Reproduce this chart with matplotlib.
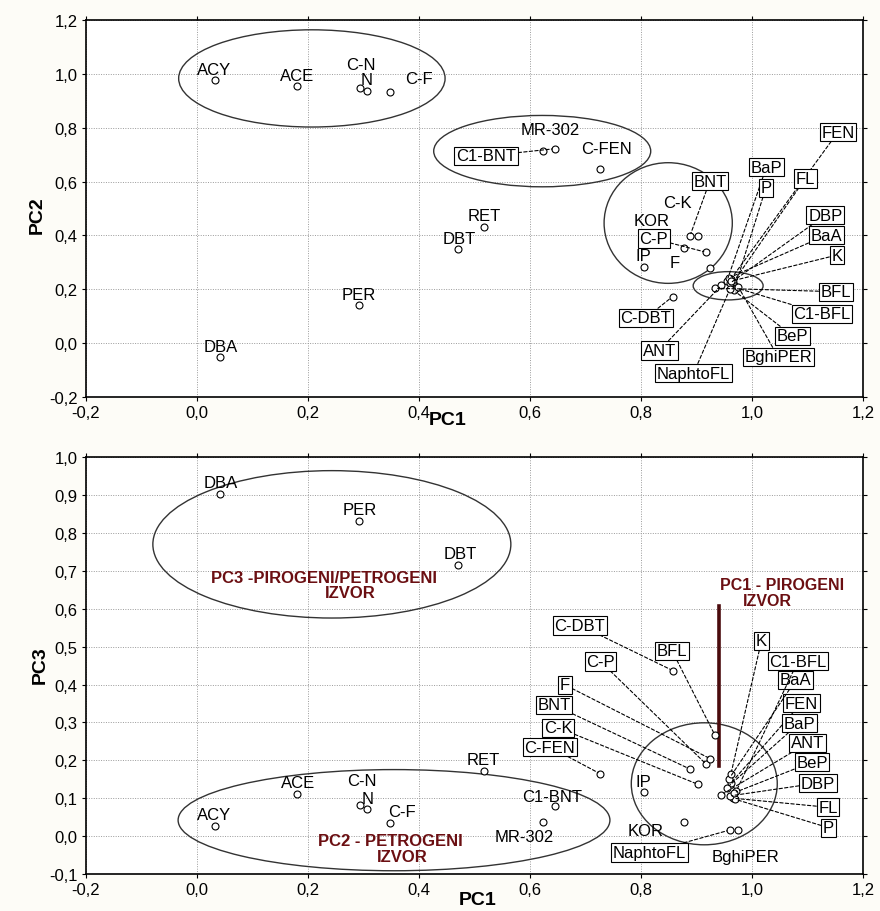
import numpy as np
import matplotlib
matplotlib.use('Agg')
from matplotlib import pyplot as plt
from matplotlib.patches import Ellipse
from matplotlib.ticker import FuncFormatter, MultipleLocator

plt.rcParams['font.family'] = ['Liberation Sans', 'DejaVu Sans']

# loadings
names = ['ACY', 'ACE', 'C-N', 'N', 'C-F', 'DBA', 'PER', 'DBT', 'RET',
         'C1-BNT', 'MR-302', 'C-FEN', 'KOR', 'IP', 'BNT', 'C-K', 'C-P', 'F',
         'C-DBT', 'BFL', 'FEN', 'BaP', 'FL', 'P', 'DBP', 'BaA', 'K',
         'C1-BFL', 'BeP', 'BghiPER', 'ANT', 'NaphtoFL']
pc1 = [0.033, 0.181, 0.294, 0.306, 0.348, 0.041, 0.292, 0.470, 0.518,
       0.645, 0.624, 0.727, 0.877, 0.805, 0.888, 0.902, 0.918, 0.925,
       0.857, 0.933, 0.962, 0.955, 0.966, 0.970, 0.960, 0.958, 0.962,
       0.972, 0.967, 0.975, 0.945, 0.960]
pc2 = [0.978, 0.953, 0.948, 0.936, 0.932, -0.053, 0.142, 0.349, 0.432,
       0.722, 0.712, 0.648, 0.354, 0.284, 0.397, 0.397, 0.337, 0.280,
       0.173, 0.204, 0.238, 0.232, 0.226, 0.214, 0.222, 0.242, 0.230,
       0.205, 0.196, 0.210, 0.215, 0.200]
pc3 = [0.026, 0.111, 0.082, 0.072, 0.034, 0.903, 0.831, 0.716, 0.172,
       0.079, 0.037, 0.164, 0.036, 0.116, 0.177, 0.137, 0.189, 0.204,
       0.437, 0.267, 0.140, 0.128, 0.100, 0.097, 0.106, 0.150, 0.164,
       0.120, 0.114, 0.017, 0.109, 0.016]

pc1 = np.array(pc1)
pc2 = np.array(pc2)
pc3 = np.array(pc3)

# label placement: name -> (x, y, boxed)
top_labels = {
    'ACY': (0.031, 1.016, False), 'ACE': (0.180, 0.994, False),
    'C-N': (0.295, 1.033, False), 'N': (0.306, 0.978, False),
    'C-F': (0.399, 0.981, False), 'PER': (0.292, 0.181, False),
    'DBA': (0.042, -0.012, False), 'MR-302': (0.636, 0.794, False),
    'C-FEN': (0.738, 0.722, False), 'RET': (0.517, 0.473, False),
    'DBT': (0.472, 0.389, False), 'KOR': (0.819, 0.457, False),
    'C-K': (0.865, 0.521, False), 'IP': (0.805, 0.327, False),
    'F': (0.860, 0.300, False),
    'C1-BNT': (0.521, 0.695, True), 'FEN': (1.155, 0.784, True),
    'BaP': (1.026, 0.654, True), 'FL': (1.096, 0.611, True),
    'P': (1.025, 0.577, True), 'BNT': (0.924, 0.602, True),
    'DBP': (1.132, 0.475, True), 'BaA': (1.134, 0.401, True),
    'K': (1.153, 0.327, True), 'BFL': (1.151, 0.191, True),
    'C1-BFL': (1.126, 0.109, True), 'BeP': (1.073, 0.027, True),
    'BghiPER': (1.047, -0.051, True), 'ANT': (0.833, -0.027, True),
    'NaphtoFL': (0.895, -0.111, True), 'C-DBT': (0.809, 0.094, True),
    'C-P': (0.823, 0.388, True),
}
bot_labels = {
    'DBA': (0.042, 0.932, False), 'PER': (0.293, 0.861, False),
    'DBT': (0.474, 0.745, False), 'ACY': (0.030, 0.056, False),
    'ACE': (0.182, 0.142, False), 'C-N': (0.297, 0.146, False),
    'N': (0.307, 0.100, False), 'C-F': (0.369, 0.065, False),
    'RET': (0.515, 0.202, False), 'C1-BNT': (0.639, 0.105, False),
    'MR-302': (0.590, 0.000, False), 'IP': (0.805, 0.144, False),
    'KOR': (0.808, 0.015, False), 'BghiPER': (0.988, -0.054, False),
    'C-DBT': (0.690, 0.556, True), 'BFL': (0.856, 0.489, True),
    'C-P': (0.727, 0.461, True), 'F': (0.663, 0.399, True),
    'BNT': (0.643, 0.346, True), 'C-K': (0.651, 0.286, True),
    'C-FEN': (0.636, 0.235, True), 'K': (1.017, 0.515, True),
    'C1-BFL': (1.083, 0.462, True), 'BaA': (1.079, 0.412, True),
    'FEN': (1.089, 0.351, True), 'BaP': (1.085, 0.298, True),
    'ANT': (1.100, 0.246, True), 'BeP': (1.108, 0.195, True),
    'DBP': (1.119, 0.140, True), 'FL': (1.137, 0.076, True),
    'P': (1.138, 0.022, True), 'NaphtoFL': (0.815, -0.043, True),
}

fig = plt.figure(figsize=(8.8, 9.12), dpi=100, facecolor='#fdfcf7')
ax1 = fig.add_axes([0.0977, 0.5636, 0.883, 0.4134])
ax2 = fig.add_axes([0.0977, 0.0406, 0.883, 0.457])

fmt = FuncFormatter(lambda v, p: ('%.1f' % (0.0 if abs(v) < 1e-9 else v)).replace('.', ','))


def style(ax, ystep):
    ax.set_xlim(-0.2, 1.2)
    ax.xaxis.set_major_locator(MultipleLocator(0.2))
    ax.yaxis.set_major_locator(MultipleLocator(ystep))
    ax.xaxis.set_major_formatter(fmt)
    ax.yaxis.set_major_formatter(fmt)
    ax.grid(True, color='#9a9a9a', linestyle=(0, (1, 1.5)), linewidth=0.7)
    ax.set_axisbelow(True)
    ax.tick_params(direction='out', length=3, width=0.8, labelsize=12,
                   top=True, right=True, pad=3)
    for s in ax.spines.values():
        s.set_linewidth(1.2)


def draw(ax, ys, labels):
    ax.plot(pc1, ys, 'o', ms=5, mfc='white', mec='black', mew=0.8, zorder=4)
    for i, nm in enumerate(names):
        tx, ty, boxed = labels[nm]
        if boxed:
            ax.annotate(nm, xy=(pc1[i], ys[i]), xytext=(tx, ty),
                        ha='center', va='center', fontsize=12, zorder=5,
                        bbox=dict(boxstyle='square,pad=0.1', fc='white',
                                  ec='black', lw=0.8),
                        arrowprops=dict(arrowstyle='-', lw=0.8,
                                        linestyle=(0, (3, 2)),
                                        shrinkA=0, shrinkB=2))
        else:
            ax.text(tx, ty, nm, ha='center', va='center', fontsize=12,
                    zorder=5)


style(ax1, 0.2)
ax1.set_ylim(-0.2, 1.2)
for cx, cy, w, h in [(0.207, 0.983, 0.48, 0.361), (0.622, 0.713, 0.391, 0.265),
                     (0.849, 0.446, 0.231, 0.448), (0.957, 0.213, 0.126, 0.105)]:
    ax1.add_patch(Ellipse((cx, cy), w, h, fill=False, ec='#333333', lw=1.0,
                          zorder=3))
draw(ax1, pc2, top_labels)

style(ax2, 0.1)
ax2.set_ylim(-0.1, 1.0)
for cx, cy, w, h in [(0.243, 0.770, 0.645, 0.389), (0.355, 0.042, 0.778, 0.267),
                     (0.914, 0.138, 0.263, 0.322)]:
    ax2.add_patch(Ellipse((cx, cy), w, h, fill=False, ec='#333333', lw=1.0,
                          zorder=3))
draw(ax2, pc3, bot_labels)

red = '#6b0f12'
ax2.plot([0.941, 0.941], [0.186, 0.608], color='#4a0b0d', lw=2.6, zorder=3)
ax2.text(0.228, 0.683, 'PC3 -PIROGENI/PETROGENI', color=red, weight='bold',
         fontsize=12, ha='center', va='center')
ax2.text(0.276, 0.642, 'IZVOR', color=red, weight='bold', fontsize=12,
         ha='center', va='center')
ax2.text(1.054, 0.665, 'PC1 - PIROGENI', color=red, weight='bold',
         fontsize=11.5, ha='center', va='center')
ax2.text(1.027, 0.623, 'IZVOR', color=red, weight='bold', fontsize=11.5,
         ha='center', va='center')
ax2.text(0.348, -0.012, 'PC2 - PETROGENI', color=red, weight='bold',
         fontsize=12, ha='center', va='center')
ax2.text(0.369, -0.053, 'IZVOR', color=red, weight='bold', fontsize=12,
         ha='center', va='center')

fig.text(448 / 880, 1 - 421 / 912, 'PC1', ha='center', va='center',
         weight='bold', fontsize=14)
fig.text(478 / 880, 1 - 901 / 912, 'PC1', ha='center', va='center',
         weight='bold', fontsize=14)
fig.text(37 / 880, 1 - 215 / 912, 'PC2', ha='center', va='center',
         weight='bold', fontsize=14, rotation=90)
fig.text(40 / 880, 1 - 665 / 912, 'PC3', ha='center', va='center',
         weight='bold', fontsize=14, rotation=90)

fig.savefig('out.png', dpi=100, facecolor=fig.get_facecolor())
